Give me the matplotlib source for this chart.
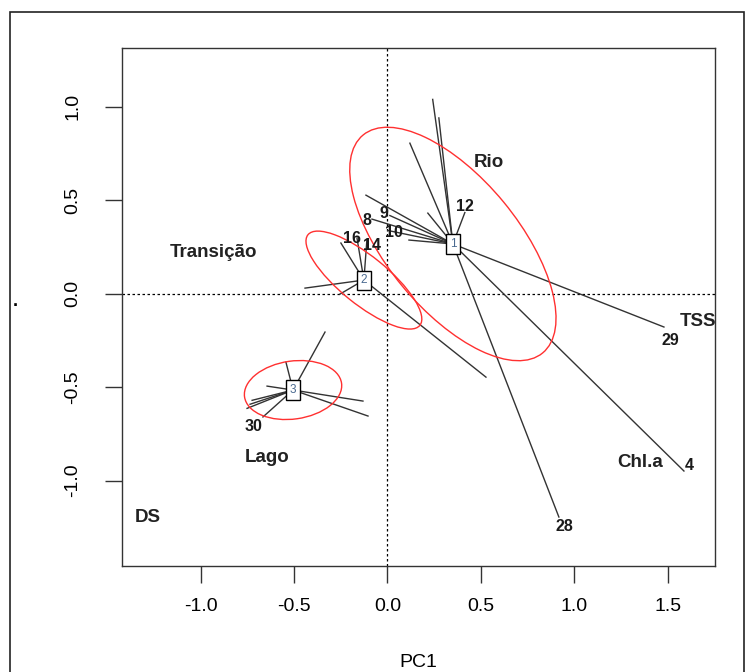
import matplotlib
matplotlib.use("Agg")
import matplotlib.pyplot as plt
from matplotlib.patches import Ellipse, Rectangle

plt.rcParams['font.family'] = ['Liberation Sans', 'DejaVu Sans']

# group centroids
centroid_ids = ["1", "2", "3"]
centroid_x = [0.350, -0.126, -0.505]
centroid_y = [0.265, 0.072, -0.516]

# sample scores, with the group each one belongs to
point_group = [0, 0, 0, 0, 0, 0, 0, 0, 0, 0, 0, 0, 0,
               1, 1, 1, 1, 1, 1,
               2, 2, 2, 2, 2, 2, 2, 2, 2]
point_x = [0.242, 0.275, 0.120, 0.216, 0.414, -0.115, -0.083, 0.013, 0.003, 0.115, 1.479, 1.586, 0.917,
           -0.441, -0.249, -0.163, -0.110, -0.254, 0.527,
           -0.334, -0.543, -0.644, -0.751, -0.735, -0.724, -0.666, -0.131, -0.104]
point_y = [1.038, 0.939, 0.804, 0.430, 0.433, 0.526, 0.398, 0.417, 0.337, 0.286, -0.179, -0.949, -1.195,
           0.029, 0.270, 0.297, 0.286, -0.003, -0.447,
           -0.206, -0.367, -0.495, -0.614, -0.592, -0.571, -0.660, -0.575, -0.655]

# sample numbers that are written on the plot
sample_labels = ["12", "9", "8", "10", "16", "14", "30", "29", "4", "28"]
sample_lx = [0.417, -0.019, -0.110, 0.035, -0.187, -0.083, -0.719, 1.511, 1.612, 0.944]
sample_ly = [0.463, 0.430, 0.393, 0.329, 0.295, 0.256, -0.709, -0.249, -0.922, -1.248]

# group / variable names
names = ["Rio", "Transição", "Lago", "DS", "TSS", "Chl.a"]
names_x = [0.54, -0.933, -0.642, -1.284, 1.661, 1.353]
names_y = [0.70, 0.222, -0.877, -1.197, -0.147, -0.903]

# dispersion ellipses: semi axes and angle
ell_a = [0.755, 0.385, 0.262]
ell_b = [0.352, 0.128, 0.155]
ell_angle = [-50.5, -39.0, 8.0]

fig = plt.figure(figsize=(7.54, 6.72), dpi=100)
ax = fig.add_axes([0.1613, 0.1577, 0.948 - 0.1613, 0.9286 - 0.1577])

ax.axhline(0, color='black', lw=0.9, linestyle=(0, (2, 2)), zorder=1)
ax.axvline(0, color='black', lw=0.9, linestyle=(0, (2, 2)), zorder=1)

for g, px, py in zip(point_group, point_x, point_y):
    ax.plot([centroid_x[g], px], [centroid_y[g], py], color='#333333', lw=1.0, zorder=2)

for cx, cy, a, b, ang in zip(centroid_x, centroid_y, ell_a, ell_b, ell_angle):
    ax.add_patch(Ellipse((cx, cy), 2 * a, 2 * b, angle=ang, fill=False,
                         edgecolor='#ff3030', lw=1.0, zorder=3))

for lab, cx, cy in zip(centroid_ids, centroid_x, centroid_y):
    ax.text(cx, cy, lab, fontsize=8.5, color='#4a6a90', ha='center', va='center', zorder=5,
            bbox=dict(boxstyle='square,pad=0.3', facecolor='white', edgecolor='black', lw=1.0))

for lab, lx, ly in zip(sample_labels, sample_lx, sample_ly):
    ax.text(lx, ly, lab, fontsize=11.5, fontweight='bold', color='#1a1a1a',
            ha='center', va='center', zorder=4)

for lab, lx, ly in zip(names, names_x, names_y):
    ax.text(lx, ly, lab, fontsize=13.5, fontweight='bold', color='#222222',
            ha='center', va='center', zorder=4)

ax.set_xlim(-1.422, 1.751)
ax.set_ylim(-1.457, 1.313)
ax.set_xticks([-1.0, -0.5, 0.0, 0.5, 1.0, 1.5])
ax.set_xticklabels(["-1.0", "-0.5", "0.0", "0.5", "1.0", "1.5"])
ax.set_yticks([-1.0, -0.5, 0.0, 0.5, 1.0])
ax.set_yticklabels(["-1.0", "-0.5", "0.0", "0.5", "1.0"], rotation=90, va='center')
ax.tick_params(axis='both', length=12, width=1.0, color='#333333', labelsize=14, pad=11)
ax.tick_params(axis='y', pad=17)
for s in ax.spines.values():
    s.set_color('#333333')
    s.set_linewidth(1.0)

ax.set_xlabel("PC1", fontsize=14, labelpad=28)
fig.text(15 / 754, 1 - 302 / 672, ".", fontsize=13, fontweight='bold', ha='center', va='center')

# outer frame of the figure
fig.patches.append(Rectangle((10 / 754, -0.05), (744 - 10) / 754, 1.05 - 12 / 672,
                             transform=fig.transFigure, fill=False, edgecolor='#222222', lw=1.2))

fig.savefig("out.png", dpi=100)
